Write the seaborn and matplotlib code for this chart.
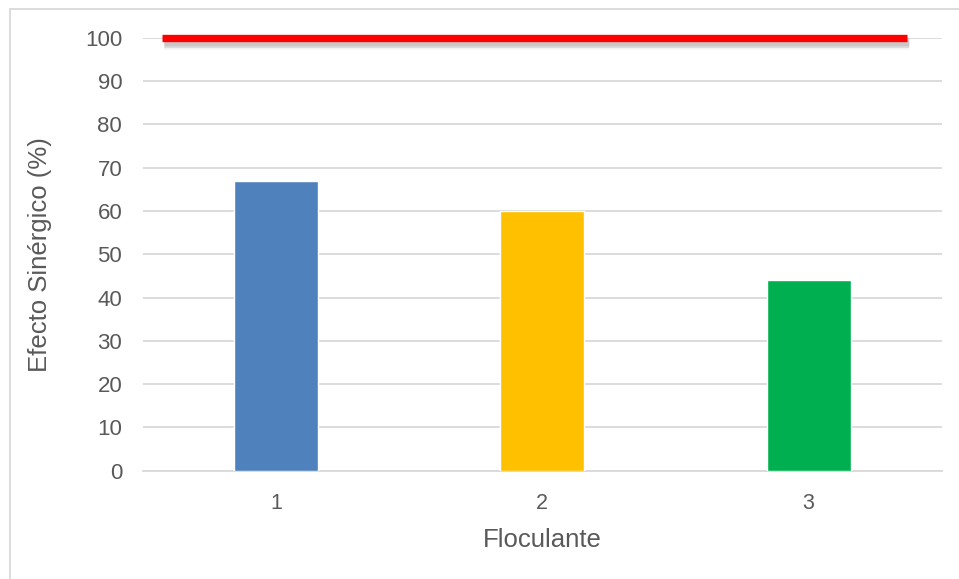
import matplotlib
matplotlib.use("Agg")
import matplotlib.pyplot as plt
import matplotlib.patheffects as pe
from matplotlib.lines import Line2D
import seaborn as sns
import pandas as pd

# Data
categories = ["1", "2", "3"]
efecto_sinergico = [67, 60, 44]
bar_colors = ["#4F81BD", "#FFC000", "#00B050"]
referencia = 100
y_ticks = [0, 10, 20, 30, 40, 50, 60, 70, 80, 90, 100]

sns.set_theme(style="white")
plt.rcParams["font.family"] = ["Liberation Sans", "DejaVu Sans"]

text_color = "#595959"
grid_color = "#D9D9D9"

fig = plt.figure(figsize=(9.59, 5.79), dpi=100)
ax = fig.add_axes([0.1491, 0.187, 0.8329, 0.7479])

df = pd.DataFrame({"Floculante": categories, "Efecto": efecto_sinergico})
sns.barplot(data=df, x="Floculante", y="Efecto", hue="Floculante",
            palette=bar_colors, legend=False, width=0.316,
            saturation=1, ax=ax, zorder=3)

# Soft drop shadow under the reference line
line_width = 5.3
shadow = [pe.SimpleLineShadow(offset=(1.5, -d), shadow_color="black",
                              alpha=a, linewidth=line_width + w)
          for d, a, w in [(4.5, 0.04, 3.0), (4.0, 0.05, 2.0),
                          (3.5, 0.06, 1.0), (3.0, 0.08, 0.0)]]

# Reference line at 100 %
ax.axhline(referencia, xmin=0.0234, xmax=0.9566, color="#FF0000", lw=line_width,
           solid_capstyle="butt", zorder=5, clip_on=False,
           path_effects=shadow + [pe.Normal()])

ax.set_xlim(-0.5, 2.5)
ax.set_ylim(0, 100)
ax.set_yticks(y_ticks)
ax.set_yticklabels([str(v) for v in y_ticks])

ax.yaxis.grid(True, color=grid_color, lw=1.3, zorder=0)
ax.set_axisbelow(True)
for side in ["top", "right", "left"]:
    ax.spines[side].set_visible(False)
ax.spines["bottom"].set_color(grid_color)
ax.spines["bottom"].set_linewidth(1.3)

ax.tick_params(axis="y", length=0, pad=15, labelsize=16, labelcolor=text_color)
ax.tick_params(axis="x", length=0, pad=16, labelsize=15.5, labelcolor=text_color)

ax.set_xlabel("Floculante", fontsize=18.5, color=text_color, labelpad=10)
ax.set_ylabel("Efecto Sinérgico (%)", fontsize=18.5, color=text_color)
ax.yaxis.set_label_coords(-0.114, 0.5)

# Chart frame edges
fig.add_artist(Line2D([10 / 959, 1.0], [1 - 9 / 579, 1 - 9 / 579],
                      transform=fig.transFigure, color=grid_color, lw=1.3))
fig.add_artist(Line2D([10 / 959, 10 / 959], [0.0, 1 - 9 / 579],
                      transform=fig.transFigure, color=grid_color, lw=1.3))

fig.savefig("out.png", dpi=100, facecolor="white")
